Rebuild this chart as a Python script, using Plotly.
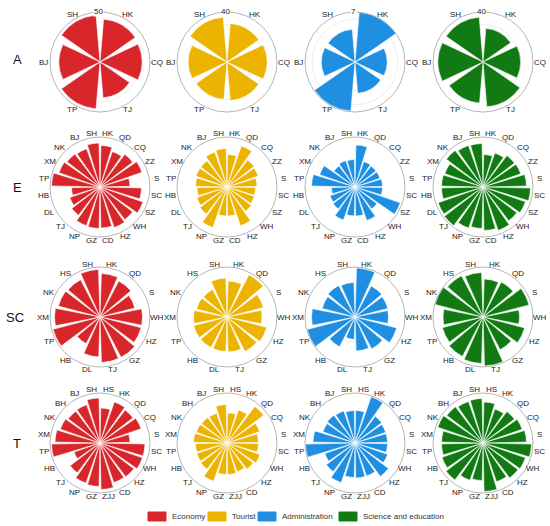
import math
import plotly.graph_objects as go

# categories per row
cats_A = ["SH", "HK", "CQ", "TJ", "TP", "BJ"]
cats_E = ["SH", "HK", "QD", "CQ", "ZZ", "S", "SC", "SZ", "WH", "HZ",
          "CD", "GZ", "NP", "TJ", "DL", "HB", "TP", "XM", "NK", "BJ"]
cats_SC = ["SH", "HK", "QD", "S", "WH", "HZ", "GZ", "TJ", "DL", "HB",
           "TP", "XM", "NK", "HS"]
cats_T = ["SH", "HS", "HK", "QD", "CQ", "S", "SC", "WH", "HZ", "CD",
          "ZJJ", "GZ", "NP", "TJ", "HB", "TP", "XM", "NK", "BH", "BJ"]

# row A (real scale, outer ring = max)
eco_A = [47, 43, 42, 36, 47, 41]
tour_A = [36, 31, 32, 31, 30, 31]
adm_A = [4.6, 7.0, 4.5, 4.4, 6.9, 4.7]
sci_A = [36, 27, 30, 36, 33, 36]
max_A = [50, 40, 7, 40]

# rows E, SC, T (percent of outer ring)
eco_E = [88, 83, 75, 82, 89, 60, 83, 91, 82, 86, 82, 83, 82, 71, 64, 57, 97, 87, 83, 81]
tour_E = [77, 65, 87, 68, 66, 60, 57, 58, 61, 82, 58, 58, 86, 68, 64, 60, 63, 66, 66, 74]
adm_E = [55, 84, 54, 53, 53, 55, 55, 96, 55, 71, 58, 58, 70, 55, 53, 47, 87, 75, 53, 56]
sci_E = [87, 65, 72, 79, 80, 87, 95, 90, 85, 92, 87, 83, 87, 97, 95, 83, 83, 81, 92, 88]

eco_SC = [95, 87, 81, 72, 85, 85, 91, 91, 80, 60, 97, 91, 86, 84]
tour_SC = [78, 72, 95, 75, 70, 82, 78, 70, 69, 69, 69, 67, 63, 62]
adm_SC = [69, 98, 70, 68, 67, 86, 72, 68, 45, 67, 99, 87, 68, 71]
sci_SC = [89, 76, 79, 95, 73, 86, 74, 98, 93, 89, 84, 80, 99, 93]

eco_T = [90, 70, 87, 83, 87, 60, 90, 90, 85, 84, 93, 87, 85, 75, 55, 97, 90, 84, 80, 81]
tour_T = [77, 60, 70, 92, 69, 63, 63, 70, 66, 61, 63, 63, 81, 66, 64, 63, 67, 65, 64, 63]
adm_T = [65, 65, 98, 67, 65, 65, 65, 69, 84, 70, 70, 69, 84, 72, 64, 99, 84, 68, 70, 68]
sci_T = [89, 82, 72, 79, 83, 87, 97, 90, 88, 82, 97, 75, 79, 93, 87, 83, 83, 96, 91, 88]

series = ["Economy", "Tourist", "Administration", "Science and education"]
colors = ["#D8262B", "#ECB400", "#1E8FE1", "#127A12"]
row_names = ["A", "E", "SC", "T"]

rows = [
    (cats_A, [eco_A, tour_A, adm_A, sci_A], max_A),
    (cats_E, [eco_E, tour_E, adm_E, sci_E], [100] * 4),
    (cats_SC, [eco_SC, tour_SC, adm_SC, sci_SC], [100] * 4),
    (cats_T, [eco_T, tour_T, adm_T, sci_T], [100] * 4),
]

W, H = 550, 526
cx = [100, 227, 355, 483]
cy = [62, 187, 317, 443]
row_lab_x = [17, 17, 15, 17]
row_lab_y = [60, 188, 317, 443]
R = 50


def px(x):
    return x / W


def py(y):
    return 1 - y / H


fig = go.Figure()
layout = {}
annotations = []
shapes = []
k = 0
for r, (cats, vals, rmax) in enumerate(rows):
    n = len(cats)
    for c in range(4):
        k += 1
        name = "polar" if k == 1 else f"polar{k}"
        fig.add_trace(go.Barpolar(
            r=vals[c], theta=cats, name=series[c],
            marker=dict(color=colors[c], line=dict(color="white", width=0.6)),
            width=0.84 if n == 6 else 0.86,
            subplot=name, showlegend=False,
        ))
        layout[name] = dict(
            domain=dict(x=[px(cx[c] - R), px(cx[c] + R)],
                        y=[py(cy[r] + R), py(cy[r] - R)]),
            bgcolor="white",
            radialaxis=dict(range=[0, rmax[c]], showticklabels=False, ticks="",
                            showline=False, gridcolor="#eeeeee", gridwidth=0.8,
                            nticks=5),
            angularaxis=dict(type="category", direction="clockwise",
                             rotation=90 + 180 / n, showgrid=False,
                             showline=True, linecolor="#b5b5b5", linewidth=1,
                             ticks="", showticklabels=False),
        )
        # category labels centred just outside the ring
        for i, lab in enumerate(cats):
            a = math.radians(-180 / n + i * 360 / n)
            d = R + 3.5 + 3.5 * abs(math.sin(a))
            annotations.append(dict(
                x=px(cx[c] + d * math.sin(a)), y=py(cy[r] - d * math.cos(a)),
                xref="paper", yref="paper", text=lab, showarrow=False,
                xanchor="center", yanchor="middle",
                font=dict(size=8, color="#222")))
        if r == 0:
            annotations.append(dict(
                x=px(cx[c] - 2), y=py(cy[r] - R - 1), xref="paper", yref="paper",
                text=str(rmax[c]), showarrow=False, bgcolor="white",
                font=dict(size=8, color="#222"), yanchor="middle",
                xanchor="center", borderpad=0))
    annotations.append(dict(
        x=px(row_lab_x[r]), y=py(row_lab_y[r]), xref="paper", yref="paper",
        text=row_names[r], showarrow=False, xanchor="center", yanchor="middle",
        font=dict(size=13, color="#111")))

# legend drawn by hand: swatch + label
legend_x = [148, 208, 258, 339]
for name, col, lx in zip(series, colors, legend_x):
    shapes.append(dict(type="rect", xref="paper", yref="paper",
                       x0=px(lx), x1=px(lx + 18), y0=py(521), y1=py(512),
                       fillcolor=col, line=dict(color=col, width=1)))
    annotations.append(dict(
        x=px(lx + 22), y=py(516.5), xref="paper", yref="paper", text=name,
        showarrow=False, xanchor="left", yanchor="middle",
        font=dict(size=8, color="#333")))

fig.update_layout(
    width=W, height=H,
    margin=dict(l=0, r=0, t=0, b=0),
    paper_bgcolor="white",
    font=dict(family="Arial, Liberation Sans, sans-serif"),
    annotations=annotations,
    shapes=shapes,
    showlegend=False,
    **layout,
)

# drop the browser's default body margin so the figure fills the window
fig.write_html("out.html", config={"displayModeBar": False},
               post_script="document.body.style.margin='0px';")
